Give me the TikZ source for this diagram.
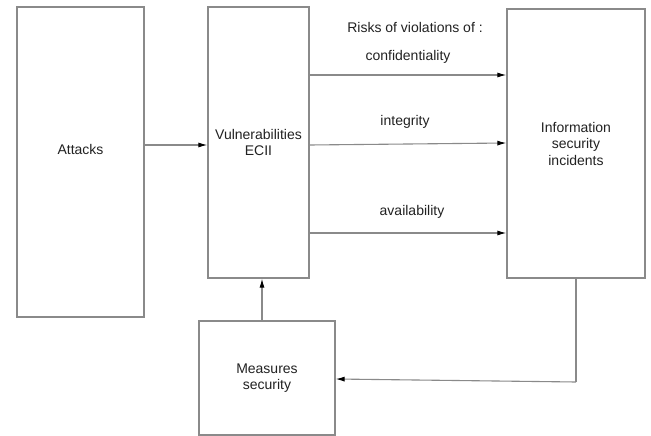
\documentclass[tikz,border=0pt]{standalone}
\usepackage{fontspec}
\setmainfont{Liberation Sans}
\usetikzlibrary{arrows.meta}
\definecolor{boxgray}{HTML}{8A8A8A}
\definecolor{txt}{HTML}{222222}
\begin{document}
\begin{tikzpicture}[x=1pt,y=-1pt,
  box/.style={draw=boxgray,line width=1.2pt,fill=white,inner sep=0pt,align=center,font=\fontsize{14}{16.5}\selectfont,text=txt},
  lbl/.style={font=\fontsize{14}{16.5}\selectfont,text=txt,inner sep=0pt},
  arr/.style={draw=boxgray,line width=1.1pt,-{Latex[length=9pt,width=5pt,color=black]}},
  ln/.style={draw=boxgray,line width=1.1pt}]
\useasboundingbox[fill=white] (0,0) rectangle (651,436);
\node[box,minimum width=127pt,minimum height=310pt] (attacks) at (80.5,162) {};
\node[lbl] (attackstext) at (80.5,149) {Attacks};
\node[box,minimum width=101pt,minimum height=271pt] (vuln) at (258.5,142.5) {Vulnerabilities\\ECII};
\node[box,minimum width=138pt,minimum height=269pt] (info) at (576,143.5) {Information\\security\\incidents};
\node[box,minimum width=136pt,minimum height=114pt] (meas) at (267,378) {Measures\\security};
\node[lbl] (risks) at (415,27) {Risks of violations of :};
\node[lbl] (conf) at (408,57) {confidentiality};
\node[lbl] (integ) at (405,122) {integrity};
\node[lbl] (avail) at (412,212) {availability};
\draw[arr] (attacks.east |- 0,145) -- (vuln.west |- 0,145);
\draw[arr] (vuln.east |- 0,75) -- (info.west |- 0,75);
\draw[arr] (vuln.east |- 0,145) -- (info.west |- 0,143);
\draw[arr] (vuln.east |- 0,233) -- (info.west |- 0,233);
\draw[arr] (meas.north -| 262,0) -- (vuln.south -| 262,0);
\draw[ln] (info.south) -- (info.south |- 0,382) coordinate (corner);
\draw[arr] (corner) -- (meas.east |- 0,379);
\end{tikzpicture}
\end{document}
